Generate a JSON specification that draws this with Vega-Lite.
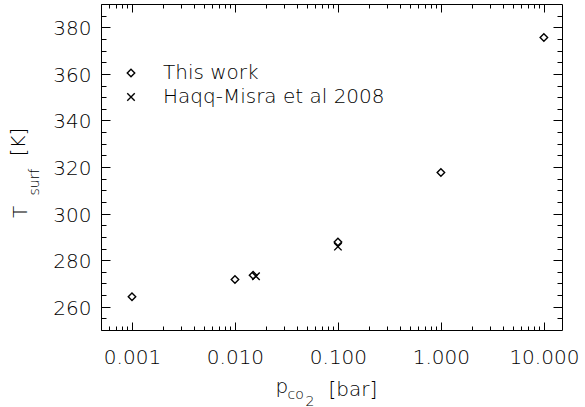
{
  "$schema": "https://vega.github.io/schema/vega-lite/v6.json",
  "width": 461,
  "height": 326,
  "autosize": "none",
  "padding": {"left": 101, "top": 4, "right": 23, "bottom": 77},
  "background": "white",
  "config": {
    "view": {"stroke": "black", "strokeWidth": 1},
    "axis": {"grid": false, "domain": false, "labelFont": "DejaVu Sans", "titleFont": "DejaVu Sans", "labelFontWeight": 200, "labelColor": "black", "titleColor": "black", "tickColor": "black", "tickWidth": 1, "titleFontWeight": 200}
  },
  "data": {
    "values": [
      {"p": 0.001, "T": 264.3, "series": "This work"},
      {"p": 0.01, "T": 271.7, "series": "This work"},
      {"p": 0.015, "T": 273.5, "series": "This work"},
      {"p": 0.1, "T": 287.8, "series": "This work"},
      {"p": 1, "T": 317.6, "series": "This work"},
      {"p": 10, "T": 375.6, "series": "This work"},
      {"p": 0.016, "T": 273.1, "series": "Haqq-Misra et al 2008"},
      {"p": 0.1, "T": 285.8, "series": "Haqq-Misra et al 2008"}
    ]
  },
  "layer": [
    {
      "mark": {"type": "point", "filled": false, "stroke": "black", "strokeWidth": 1.4, "size": 56, "opacity": 1},
      "encoding": {
        "x": {"field": "p", "type": "quantitative", "scale": {"type": "log", "domain": [0.0005, 15], "nice": false},
          "axis": {"orient": "bottom", "values": [0.001, 0.01, 0.1, 1, 10], "format": ".3f", "ticks": false, "labelPadding": 33, "labelBaseline": "alphabetic", "labelFontSize": 20, "labelFlush": false, "labelOverlap": false,
            "title": "p", "titleFontSize": 20, "titleX": 174, "titleY": 62, "titleAlign": "left", "titleBaseline": "alphabetic"}},
        "y": {"field": "T", "type": "quantitative", "scale": {"domain": [250, 390], "nice": false, "zero": false},
          "axis": {"orient": "left", "values": [260, 280, 300, 320, 340, 360, 380], "ticks": false, "labelPadding": 10, "labelFontSize": 20, "labelBaseline": "middle", "labelOffset": 1.5, "labelFlush": false, "labelOverlap": false,
            "title": "T", "titleFontSize": 20, "titleAngle": -90, "titleX": -75, "titleY": 207.5, "titleAlign": "center", "titleBaseline": "alphabetic"}},
        "shape": {"field": "series", "type": "nominal",
          "scale": {"domain": ["This work", "Haqq-Misra et al 2008"], "range": ["diamond", "M-1,-1L1,1M-1,1L1,-1"]},
          "legend": {"title": null, "orient": "none", "legendX": 20, "legendY": 59, "padding": 0, "labelFont": "DejaVu Sans", "labelFontWeight": 200, "labelFontSize": 20, "labelColor": "black", "labelOffset": 22, "labelLimit": 0, "rowPadding": 4, "symbolStrokeColor": "black", "symbolStrokeWidth": 1.4, "symbolSize": 56}}
      }
    },
    {
      "mark": {"type": "point", "opacity": 0},
      "encoding": {
        "x": {"field": "p", "type": "quantitative", "scale": {"type": "log", "domain": [0.0005, 15], "nice": false},
          "axis": {"orient": "bottom", "values": [0.0005, 0.0006, 0.0007, 0.0008, 0.0009, 0.002, 0.003, 0.004, 0.005, 0.006, 0.007, 0.008, 0.009, 0.02, 0.03, 0.04, 0.05, 0.06, 0.07, 0.08, 0.09, 0.2, 0.3, 0.4, 0.5, 0.6, 0.7, 0.8, 0.9, 2, 3, 4, 5, 6, 7, 8, 9], "tickSize": -4, "labels": false,
            "title": "co", "titleFontSize": 14, "titleX": 186, "titleY": 68, "titleAlign": "left", "titleBaseline": "alphabetic"}},
        "y": {"field": "T", "type": "quantitative", "scale": {"domain": [250, 390], "nice": false, "zero": false},
          "axis": {"orient": "left", "values": [255, 265, 270, 275, 285, 290, 295, 305, 310, 315, 325, 330, 335, 345, 350, 355, 365, 370, 375, 385], "tickSize": -5, "labels": false,
            "title": "surf", "titleFontSize": 14, "titleAngle": -90, "titleX": -63, "titleY": 177.5, "titleAlign": "center", "titleBaseline": "alphabetic"}}
      }
    },
    {
      "mark": {"type": "point", "opacity": 0},
      "encoding": {
        "x": {"field": "p", "type": "quantitative", "scale": {"type": "log", "domain": [0.0005, 15], "nice": false},
          "axis": {"orient": "bottom", "values": [0.001, 0.01, 0.1, 1, 10], "tickSize": -8, "labels": false,
            "title": "[bar]", "titleFontSize": 20, "titleX": 227, "titleY": 65.4, "titleAlign": "left", "titleBaseline": "alphabetic"}},
        "y": {"field": "T", "type": "quantitative", "scale": {"domain": [250, 390], "nice": false, "zero": false},
          "axis": {"orient": "left", "values": [260, 280, 300, 320, 340, 360, 380], "tickSize": -9, "labels": false,
            "title": "[K]", "titleFontSize": 20, "titleAngle": -90, "titleX": -77, "titleY": 137.5, "titleAlign": "center", "titleBaseline": "alphabetic"}}
      }
    },
    {
      "mark": {"type": "point", "opacity": 0},
      "encoding": {
        "x": {"field": "p", "type": "quantitative", "scale": {"type": "log", "domain": [0.0005, 15], "nice": false},
          "axis": {"orient": "top", "values": [0.001, 0.01, 0.1, 1, 10], "tickSize": -8, "labels": false,
            "title": "2", "titleFontSize": 14, "titleX": 204, "titleY": 401, "titleAlign": "left", "titleBaseline": "alphabetic"}},
        "y": {"field": "T", "type": "quantitative", "scale": {"domain": [250, 390], "nice": false, "zero": false},
          "axis": {"orient": "right", "values": [260, 280, 300, 320, 340, 360, 380], "tickSize": -9, "labels": false, "title": null}}
      }
    },
    {
      "mark": {"type": "point", "opacity": 0},
      "encoding": {
        "x": {"field": "p", "type": "quantitative", "scale": {"type": "log", "domain": [0.0005, 15], "nice": false},
          "axis": {"orient": "top", "values": [0.0005, 0.0006, 0.0007, 0.0008, 0.0009, 0.002, 0.003, 0.004, 0.005, 0.006, 0.007, 0.008, 0.009, 0.02, 0.03, 0.04, 0.05, 0.06, 0.07, 0.08, 0.09, 0.2, 0.3, 0.4, 0.5, 0.6, 0.7, 0.8, 0.9, 2, 3, 4, 5, 6, 7, 8, 9], "tickSize": -4, "labels": false, "title": null}},
        "y": {"field": "T", "type": "quantitative", "scale": {"domain": [250, 390], "nice": false, "zero": false},
          "axis": {"orient": "right", "values": [255, 265, 270, 275, 285, 290, 295, 305, 310, 315, 325, 330, 335, 345, 350, 355, 365, 370, 375, 385], "tickSize": -5, "labels": false, "title": null}}
      }
    }
  ],
  "resolve": {"axis": {"x": "independent", "y": "independent"}}
}
